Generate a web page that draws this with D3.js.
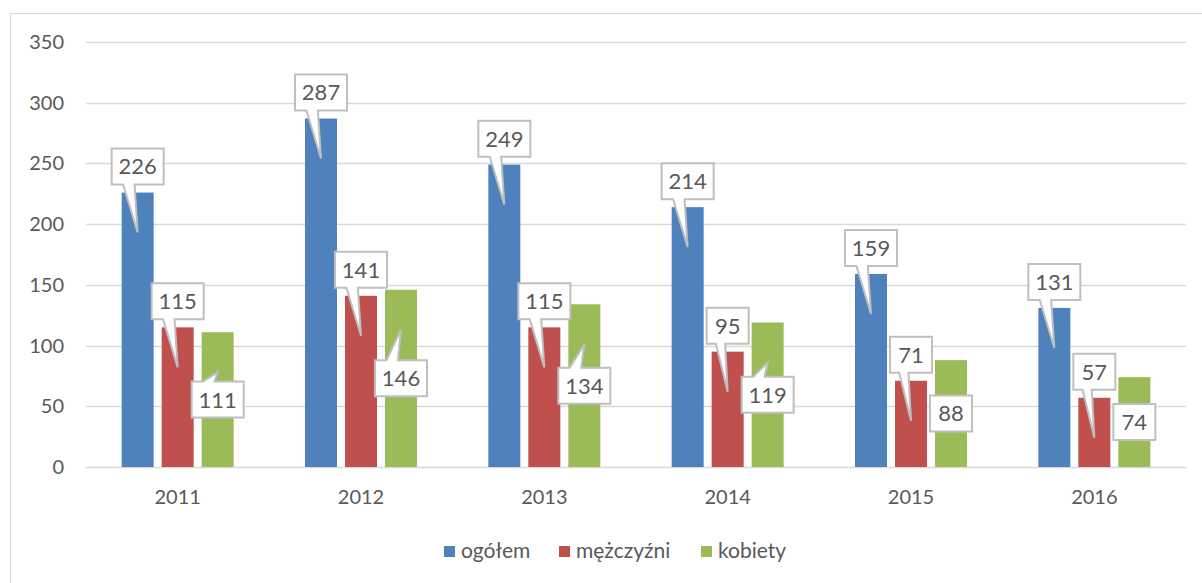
<!DOCTYPE html>
<html>
<head>
<meta charset="utf-8">
<script src="https://cdn.jsdelivr.net/npm/d3@7"></script>
<style>
	body { margin: 0; background: #fff; }
	text { font-family: Lato, "Open Sans", sans-serif; fill: #595959; }
</style>
</head>
<body>
<div id="figure"></div>
<script>
var years = ['2011', '2012', '2013', '2014', '2015', '2016'];
var seriesNames = ['ogółem', 'mężczyźni', 'kobiety'];
var ogolem = [226, 287, 249, 214, 159, 131];
var mezczyzni = [115, 141, 115, 95, 71, 57];
var kobiety = [111, 146, 134, 119, 88, 74];
var yTicks = [0, 50, 100, 150, 200, 250, 300, 350];

var w = 1202;
var h = 583;
var colors = ['#4f81bd', '#c0504d', '#9bbb59'];
var values = [ogolem, mezczyzni, kobiety];

var svg = d3.select('#figure')
	.append('svg')
	.attr('width', w)
	.attr('height', h);

// chart frame
svg.append('rect')
	.attr('x', 10.5)
	.attr('y', 13.5)
	.attr('width', 1250)
	.attr('height', 650)
	.attr('fill', 'none')
	.attr('stroke', '#d9d9d9');

var xScale = d3.scaleBand()
	.domain(years)
	.range([86, 1186]);

var sub = d3.scaleBand()
	.domain(d3.range(3))
	.range([-56, 56])
	.paddingInner(0.2);

var yScale = d3.scaleLinear()
	.domain([0, 350])
	.range([467, 42]);

// gridlines
svg.append('g')
	.selectAll('line')
	.data(yTicks)
	.enter()
	.append('line')
	.attr('x1', 86)
	.attr('x2', 1186)
	.attr('y1', function(d){ return Math.round(yScale(d)) + 0.5; })
	.attr('y2', function(d){ return Math.round(yScale(d)) + 0.5; })
	.attr('stroke', '#d9d9d9')
	.attr('stroke-width', 1.5);

// y labels
svg.append('g')
	.selectAll('text')
	.data(yTicks)
	.enter()
	.append('text')
	.attr('x', 64)
	.attr('y', function(d){ return yScale(d); })
	.attr('dy', '0.35em')
	.attr('text-anchor', 'end')
	.attr('font-size', 20)
	.text(function(d){ return d; });

// x labels
svg.append('g')
	.selectAll('text')
	.data(years)
	.enter()
	.append('text')
	.attr('x', function(d){ return xScale(d) + xScale.bandwidth() / 2; })
	.attr('y', 497)
	.attr('dy', '0.35em')
	.attr('text-anchor', 'middle')
	.attr('font-size', 20)
	.text(function(d){ return d; });

// flatten data
var points = [];
values.forEach(function(arr, s){
	arr.forEach(function(v, i){
		points.push({ s: s, year: years[i], v: v });
	});
});

function barX(d){
	return xScale(d.year) + xScale.bandwidth() / 2 + sub(d.s);
}

// bars
svg.append('g')
	.selectAll('rect')
	.data(points)
	.enter()
	.append('rect')
	.attr('x', barX)
	.attr('y', function(d){ return yScale(d.v); })
	.attr('width', sub.bandwidth())
	.attr('height', function(d){ return yScale(0) - yScale(d.v); })
	.attr('fill', function(d){ return colors[d.s]; });

// callouts
function calloutPath(d){
	var cx = barX(d) + sub.bandwidth() / 2;
	var top = yScale(d.v);
	var bw = String(d.v).length > 2 ? 52 : 42;
	var bh = 36;
	var x0 = cx - bw / 2;
	var y0;
	var tx = cx;
	var ty = top + 40;
	if(d.s < 2){
		y0 = top - 8 - bh;
	} else {
		y0 = (top + yScale(0)) / 2 - bh / 2;
	}
	var b1 = x0 + 0.22 * bw;
	var b2 = x0 + 0.44 * bw;
	var p;
	if(ty > y0 + bh){
		p = 'M' + x0 + ',' + y0 + 'H' + (x0 + bw) + 'V' + (y0 + bh) + 'H' + b2 +
			'L' + tx + ',' + ty + 'L' + b1 + ',' + (y0 + bh) + 'H' + x0 + 'Z';
	} else if(ty < y0){
		p = 'M' + x0 + ',' + y0 + 'H' + b1 + 'L' + tx + ',' + ty + 'L' + b2 + ',' + y0 +
			'H' + (x0 + bw) + 'V' + (y0 + bh) + 'H' + x0 + 'Z';
	} else {
		p = 'M' + x0 + ',' + y0 + 'H' + (x0 + bw) + 'V' + (y0 + bh) + 'H' + x0 + 'Z';
	}
	d.lx = cx;
	d.ly = y0 + bh / 2;
	return p;
}

var labels = svg.append('g')
	.selectAll('g')
	.data(points)
	.enter()
	.append('g');

labels.append('path')
	.attr('d', calloutPath)
	.attr('fill', '#fff')
	.attr('stroke', '#bfbfbf')
	.attr('stroke-width', 2)
	.attr('stroke-linejoin', 'miter');

labels.append('text')
	.attr('x', function(d){ return d.lx; })
	.attr('y', function(d){ return d.ly; })
	.attr('dy', '0.36em')
	.attr('text-anchor', 'middle')
	.attr('font-size', 22)
	.text(function(d){ return d.v; });

// legend
var legendX = [444, 559, 701];
var legend = svg.append('g')
	.selectAll('g')
	.data(seriesNames)
	.enter()
	.append('g')
	.attr('transform', function(d, i){ return 'translate(' + legendX[i] + ',551)'; });

legend.append('rect')
	.attr('x', 0)
	.attr('y', -5)
	.attr('width', 11)
	.attr('height', 11)
	.attr('fill', function(d, i){ return colors[i]; });

legend.append('text')
	.attr('x', 17)
	.attr('y', 0)
	.attr('dy', '0.35em')
	.attr('font-size', 21)
	.text(function(d){ return d; });
</script>
</body>
</html>
